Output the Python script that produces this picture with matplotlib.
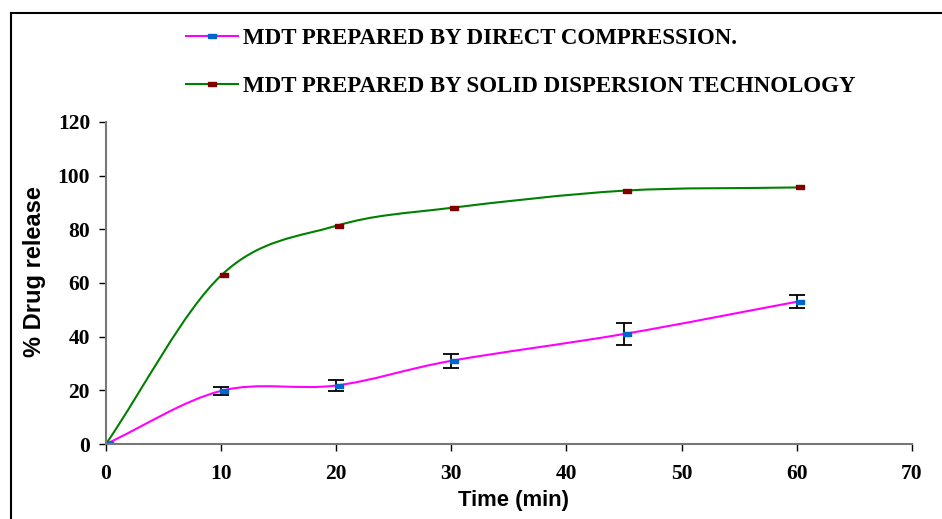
import matplotlib
matplotlib.use('Agg')
import matplotlib.pyplot as plt
import matplotlib.transforms as mtransforms
import numpy as np
from matplotlib.path import Path
from matplotlib.patches import PathPatch
from matplotlib.lines import Line2D

time = [0, 10, 20, 30, 45, 60]
direct = [0, 19.8, 21.8, 31.0, 41.0, 53.0]
direct_err = [0, 1.5, 2.0, 2.5, 4.0, 2.5]
solid = [0, 62.8, 81.3, 88.0, 94.4, 95.6]

label_direct = 'MDT PREPARED BY DIRECT COMPRESSION.'
label_solid = 'MDT PREPARED BY SOLID DISPERSION TECHNOLOGY'

rect = [(-1, -0.45), (1, -0.45), (1, 0.45), (-1, 0.45), (-1, -0.45)]


def smooth(xs, ys):
    # excel style smoothed line -> cubic bezier path through the points
    p = np.column_stack([xs, ys]).astype(float)
    n = len(p)
    verts = [tuple(p[0])]
    codes = [Path.MOVETO]
    for i in range(n - 1):
        p0 = p[i - 1] if i > 0 else 2 * p[0] - p[1]
        p3 = p[i + 2] if i + 2 < n else 2 * p[-1] - p[-2]
        c1 = p[i] + (p[i + 1] - p0) / 6
        c2 = p[i + 1] - (p3 - p[i]) / 6
        verts += [tuple(c1), tuple(c2), tuple(p[i + 1])]
        codes += [Path.CURVE4] * 3
    return Path(verts, codes)


fig = plt.figure(figsize=(9.42, 5.19), dpi=100)
ax = fig.add_axes([0.1125, 0.1445, 0.8555, 0.6205])

ax.add_patch(PathPatch(smooth(time, solid), fc='none', ec='#008000', lw=1.5))
ax.add_patch(PathPatch(smooth(time, direct), fc='none', ec='#FF00FF', lw=1.5))
ax.errorbar(time[1:], direct[1:], yerr=direct_err[1:], fmt='none', ecolor='black',
            elinewidth=1.3, capsize=5.5, capthick=1.3)
# excel draws the markers a touch right of the point
shift = ax.transData + mtransforms.ScaledTranslation(0.03, 0, fig.dpi_scale_trans)
ax.plot(time, solid, ls='none', marker=rect, ms=6, color='#800000', transform=shift)
ax.plot(time, direct, ls='none', marker=rect, ms=6, color='#0066CC', transform=shift)

ax.set_xlim(0, 70)
ax.set_ylim(0, 120)
ax.set_xticks(range(0, 71, 10))
ax.set_yticks(range(0, 121, 20))
for s in ['top', 'right']:
    ax.spines[s].set_visible(False)
for s in ['left', 'bottom']:
    ax.spines[s].set_color('#777777')
    ax.spines[s].set_linewidth(1.5)
ax.tick_params(direction='out', length=5, width=1, color='black')
ax.tick_params(axis='x', pad=9.5)
ax.tick_params(axis='y', pad=6.5)
for t in ax.get_xticklabels() + ax.get_yticklabels():
    t.set_fontfamily('Liberation Serif')
    t.set_fontweight('bold')
    t.set_fontsize(15.5)

ax.set_xlabel('Time (min)', fontfamily='Liberation Sans', fontweight='bold',
              fontsize=15.8, labelpad=4)
ax.set_ylabel('% Drug release', fontfamily='Liberation Sans', fontweight='bold',
              fontsize=17, labelpad=8.5)
ax.xaxis.label.set_x(0.506)
ax.yaxis.label.set_y(0.534)

handles = [
    Line2D([], [], color='#FF00FF', lw=1.5, marker=rect, ms=6, mfc='#0066CC', mec='#0066CC'),
    Line2D([], [], color='#008000', lw=1.5, marker=rect, ms=6, mfc='#800000', mec='#800000'),
]
fig.legend(handles, [label_direct, label_solid], loc='upper left',
           bbox_to_anchor=(0.176, 0.985), frameon=False, handlelength=2.27,
           handletextpad=0.22, labelspacing=1.15,
           prop={'family': 'Liberation Serif', 'weight': 'bold', 'size': 16.5})

# outer frame (left and top edges)
fig.add_artist(Line2D([11 / 942, 11 / 942], [0, 1 - 13 / 519], color='black',
                      lw=1.5, transform=fig.transFigure))
fig.add_artist(Line2D([11 / 942, 1], [1 - 13 / 519, 1 - 13 / 519], color='black',
                      lw=1.5, transform=fig.transFigure))

fig.savefig('out.png', dpi=100)
